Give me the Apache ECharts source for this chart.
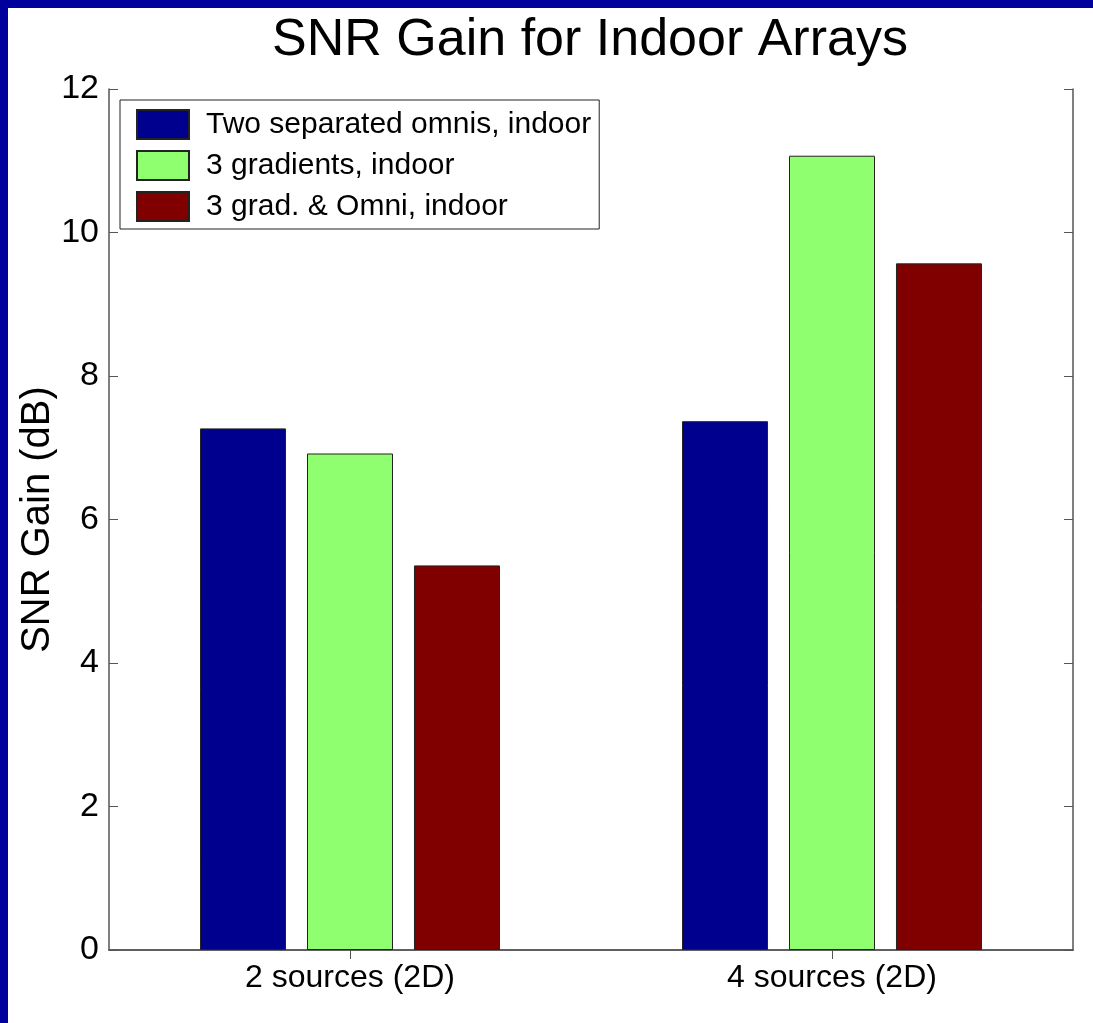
<!DOCTYPE html>
<html>
<head>
<meta charset="utf-8">
<script src="https://cdn.jsdelivr.net/npm/echarts@6/dist/echarts.min.js"></script>
<style>
  html, body { margin: 0; padding: 0; background: #ffffff; }
  #frame { position: absolute; left: 0; top: 0; width: 1093px; height: 1023px; background: #ffffff; }
  #topbar { position: absolute; left: 0; top: 0; width: 1093px; height: 8px; background: #00009C; }
  #leftbar { position: absolute; left: 0; top: 0; width: 8px; height: 1023px; background: #00009C; }
  #chart { position: absolute; left: 0; top: 0; width: 1093px; height: 1023px; }
</style>
</head>
<body>
<div id="frame"></div>
<div id="chart"></div>
<div id="topbar"></div>
<div id="leftbar"></div>
<script>
const categories = ['2 sources (2D)', '4 sources (2D)'];
const seriesNames = ['Two separated omnis, indoor', '3 gradients, indoor', '3 grad. & Omni, indoor'];
const omnisValues = [7.27, 7.37];
const gradientsValues = [6.92, 11.07];
const gradOmniValues = [5.36, 9.57];
const yTicks = [0, 2, 4, 6, 8, 10, 12];

const FONT = "'Liberation Sans', Arial, sans-serif";
const AXIS_COLOR = '#555555';
const colors = ['#00008F', '#8FFF6F', '#800000'];
const seriesData = [omnisValues, gradientsValues, gradOmniValues];

const chart = echarts.init(document.getElementById('chart'), null, { renderer: 'canvas' });

const series = seriesNames.map((name, i) => ({
  name: name,
  type: 'bar',
  xAxisIndex: 0,
  yAxisIndex: 0,
  data: seriesData[i],
  barWidth: 86,
  barGap: '24.4%',
  itemStyle: { color: colors[i], borderColor: '#222222', borderWidth: 1 },
  emphasis: { disabled: true },
  animation: false
}));

const option = {
  backgroundColor: 'transparent',
  animation: false,
  textStyle: { fontFamily: FONT },
  title: {
    text: 'SNR Gain for Indoor Arrays',
    left: 590,
    textAlign: 'center',
    top: 15,
    padding: 0,
    textStyle: { fontFamily: FONT, fontSize: 52, fontWeight: 'normal', color: '#000000' }
  },
  legend: {
    orient: 'vertical',
    left: 120,
    top: 100,
    width: 479,
    backgroundColor: '#ffffff',
    borderColor: '#222222',
    borderWidth: 1,
    borderRadius: 0,
    padding: [9, 8, 7, 16],
    itemWidth: 52,
    itemHeight: 29,
    itemGap: 10,
    icon: 'rect',
    selectedMode: false,
    data: seriesNames,
    textStyle: { fontFamily: FONT, fontSize: 30, color: '#000000', padding: [0, 0, 0, 12] }
  },
  grid: { left: 109, right: 20, top: 89, bottom: 73, containLabel: false },
  xAxis: [
    {
      type: 'category',
      data: categories,
      position: 'bottom',
      axisLine: { show: true, lineStyle: { color: AXIS_COLOR, width: 1.5 } },
      axisTick: { show: true, inside: true, alignWithLabel: true, length: 9, lineStyle: { color: AXIS_COLOR } },
      axisLabel: { fontFamily: FONT, fontSize: 32, color: '#000000', margin: 12 },
      splitLine: { show: false }
    },
    {
      type: 'category',
      data: categories,
      position: 'top',
      axisLine: { show: true, lineStyle: { color: AXIS_COLOR, width: 1.5 } },
      axisTick: { show: true, inside: true, alignWithLabel: true, length: 9, lineStyle: { color: AXIS_COLOR } },
      axisLabel: { show: false },
      splitLine: { show: false }
    }
  ],
  yAxis: [
    {
      type: 'value',
      min: yTicks[0],
      max: yTicks[yTicks.length - 1],
      interval: 2,
      position: 'left',
      name: 'SNR Gain (dB)',
      nameLocation: 'middle',
      nameRotate: 90,
      nameGap: 51,
      nameMoveOverlap: false,
      nameTextStyle: { fontFamily: FONT, fontSize: 40, color: '#000000' },
      axisLine: { show: true, lineStyle: { color: AXIS_COLOR, width: 1.5 } },
      axisTick: { show: true, inside: true, length: 9, lineStyle: { color: AXIS_COLOR } },
      axisLabel: { fontFamily: FONT, fontSize: 34, color: '#000000', margin: 10 },
      splitLine: { show: false }
    },
    {
      type: 'value',
      min: yTicks[0],
      max: yTicks[yTicks.length - 1],
      interval: 2,
      position: 'right',
      axisLine: { show: true, lineStyle: { color: AXIS_COLOR, width: 1.5 } },
      axisTick: { show: true, inside: true, length: 9, lineStyle: { color: AXIS_COLOR } },
      axisLabel: { show: false },
      splitLine: { show: false }
    }
  ],
  series: series
};

chart.setOption(option);
</script>
</body>
</html>
